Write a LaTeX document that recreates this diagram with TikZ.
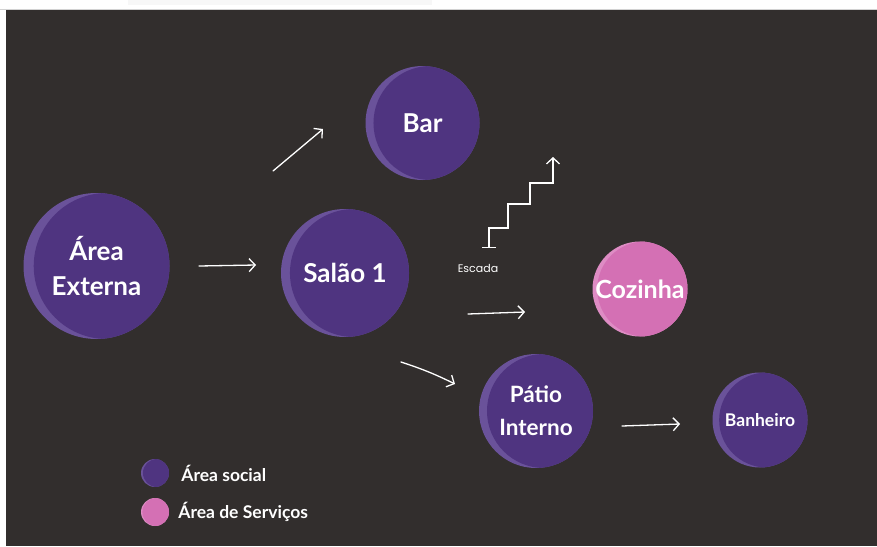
\documentclass[tikz,border=0pt]{standalone}
\usepackage{fontspec}
\setmainfont{Lato}
\newfontfamily\escadafont{Poppins}
\usetikzlibrary{arrows.meta,positioning}

\definecolor{fundo}{RGB}{50,46,45}
\definecolor{roxo}{RGB}{79,52,128}
\definecolor{roxoclaro}{RGB}{106,82,154}
\definecolor{rosa}{RGB}{212,112,180}
\definecolor{rosaclaro}{RGB}{222,140,196}

\tikzset{
  esfera/.style={circle, inner sep=0pt, text=white, align=center},
  social/.style={esfera, minimum size=#1pt, fill=roxoclaro,
    path picture={\fill[roxo] ([xshift=0.07*#1pt]path picture bounding box.center) circle[radius=0.5*#1pt];}},
  servico/.style={esfera, minimum size=#1pt, fill=rosaclaro,
    path picture={\fill[rosa] ([xshift=0.05*#1pt]path picture bounding box.center) circle[radius=0.5*#1pt];}},
  seta/.style={white, line width=1.3pt, line cap=round, -{Straight Barb[length=6pt,width=13pt]}},
  legenda/.style={text=white, inner sep=0pt, font=\bfseries\fontsize{17.5}{20}\selectfont}
}

\begin{document}
\begin{tikzpicture}[x=1pt,y=-1pt]
  \useasboundingbox (0,0) rectangle (877,546);

  % Fundo escuro e faixa de cima
  \fill[white] (0,0) rectangle (877,546);
  \fill[gray!6] (128,0) rectangle (432,5);
  \draw[gray!35, line width=0.8pt] (0,9) -- (877,9);
  \fill[fundo] (6,10) rectangle (877,546);

  % Ambientes
  \node[social=146, font=\bfseries\fontsize{26}{35}\selectfont] (externa) at (96.5,266) {Área\\Externa};
  \node[social=114, font=\bfseries\fontsize{26}{30}\selectfont] (bar) at (422.5,123) {Bar};
  \node[social=128, font=\bfseries\fontsize{26}{30}\selectfont] (salao) at (345,273) {Salão 1};
  \node[servico=95, font=\bfseries\fontsize{25}{30}\selectfont] (cozinha) at (640,289) {Cozinha};
  \node[social=114, font=\bfseries\fontsize{22.5}{33}\selectfont] (patio) at (536,411) {Pátio\\Interno};
  \node[social=95, font=\bfseries\fontsize{17.5}{20}\selectfont] (banheiro) at (760,420) {Banheiro};

  % Pontas das setas
  \coordinate (s1a) at (199,266);
  \coordinate (s1b) at (256,265);
  \coordinate (s2a) at (273,171);
  \coordinate (s2b) at (323,129);
  \coordinate (s3a) at (468,314);
  \coordinate (s3b) at (525,312);
  \coordinate (s4a) at (401,362);
  \coordinate (s4b) at (455,384);
  \coordinate (s5a) at (622,426);
  \coordinate (s5b) at (680,424);

  \draw[seta] (s1a) -- (s1b);
  \draw[seta] (s2a) -- (s2b);
  \draw[seta] (s3a) -- (s3b);
  \draw[seta] (s4a) to[bend left=4] (s4b);
  \draw[seta] (s5a) -- (s5b);

  % Escada
  \coordinate (pe) at (489,248);
  \coordinate (topo) at (553,157);
  \draw[seta, {Bar[width=14pt]}-{Straight Barb[length=6pt,width=13pt]}]
    (pe) -- (489,228) -- (508,228) -- (508,204) -- (530,204) -- (530,183) -- (553,183) -- (topo);
  \node[text=white, font=\escadafont\fontsize{11}{13}\selectfont] (escada) at (478,268) {Escada};

  % Legenda
  \node[social=28] (legsocial) at (155,473) {};
  \node[servico=28] (legservico) at (155,512) {};
  \node[legenda, right=12pt of legsocial] (txtsocial) {Área social};
  \node[legenda, right=9pt of legservico] (txtservico) {Área de Serviços};
\end{tikzpicture}
\end{document}
